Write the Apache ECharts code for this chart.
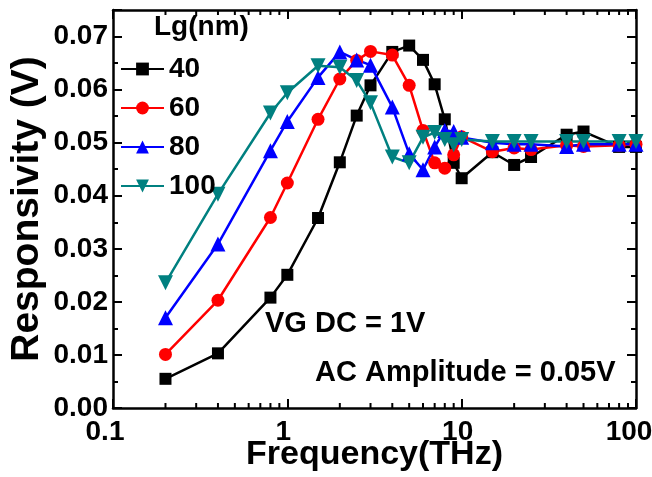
<!DOCTYPE html>
<html>
<head>
<meta charset="utf-8">
<script src="https://cdn.jsdelivr.net/npm/echarts@6/dist/echarts.min.js"></script>
<style>
html, body { margin: 0; padding: 0; background: #fff; }
#chart { width: 652px; height: 477px; }
</style>
</head>
<body>
<div id="chart"></div>
<script>
// frequency in THz, responsivity in V
var freq = [0.2, 0.4, 0.8, 1, 1.5, 2, 2.5, 3, 4, 5, 6, 7, 8, 9, 10, 15, 20, 25, 40, 50, 80, 100];
var lg40 = [0.0055, 0.0103, 0.0208, 0.0251, 0.0358, 0.0463, 0.0551, 0.0608, 0.0671, 0.0683, 0.0656, 0.0610, 0.0544, 0.0462, 0.0433, 0.0482, 0.0458, 0.0473, 0.0515, 0.0521, 0.0492, 0.0492];
var lg60 = [0.0101, 0.0203, 0.0359, 0.0424, 0.0544, 0.0620, 0.0655, 0.0672, 0.0665, 0.0608, 0.0523, 0.0462, 0.0452, 0.0477, 0.0511, 0.0483, 0.0490, 0.0487, 0.0495, 0.0493, 0.0495, 0.0497];
var lg80 = [0.0170, 0.0309, 0.0485, 0.0540, 0.0623, 0.0671, 0.0656, 0.0646, 0.0567, 0.0479, 0.0449, 0.0492, 0.0523, 0.0521, 0.0510, 0.0500, 0.0497, 0.0497, 0.0493, 0.0497, 0.0497, 0.0497];
var lg100 = [0.0236, 0.0403, 0.0556, 0.0594, 0.0645, 0.0642, 0.0617, 0.0575, 0.0473, 0.0462, 0.0510, 0.0519, 0.0506, 0.0496, 0.0506, 0.0502, 0.0502, 0.0502, 0.0502, 0.0502, 0.0502, 0.0502];
var lgNames = ['40', '60', '80', '100'];
var minorFreq = [0.2, 0.3, 0.4, 0.5, 0.6, 0.7, 0.8, 0.9, 2, 3, 4, 5, 6, 7, 8, 9, 20, 30, 40, 50, 60, 70, 80, 90];

var font = "'Liberation Sans', Arial, sans-serif";
var yMin = 0, yMax = 0.075;
var myChart = echarts.init(document.getElementById('chart'));

function pairs(ys) {
    return freq.map(function (f, i) { return [f, ys[i]]; });
}

function lineSeries(name, ys, color, symbol, size, rotate) {
    return {
        name: name,
        type: 'line',
        data: pairs(ys),
        symbol: symbol,
        symbolSize: size,
        symbolRotate: rotate || 0,
        showSymbol: true,
        itemStyle: { color: color },
        lineStyle: { color: color, width: 2.5 },
        emphasis: { disabled: true },
        animation: false
    };
}

// minor ticks for the log axis, bottom and top
function minorTicks(params, api) {
    var b = api.coord([api.value(0), yMin]);
    var t = api.coord([api.value(0), yMax]);
    return {
        type: 'group',
        children: [
            { type: 'line', shape: { x1: b[0], y1: b[1], x2: b[0], y2: b[1] - 5 }, style: { stroke: '#000', lineWidth: 2 } },
            { type: 'line', shape: { x1: t[0], y1: t[1], x2: t[0], y2: t[1] + 5 }, style: { stroke: '#000', lineWidth: 2 } }
        ]
    };
}

var axisLine = { show: true, onZero: false, lineStyle: { color: '#000', width: 2.5 } };
var labelFont = { fontFamily: font, fontWeight: 'bold', fontSize: 28, color: '#000' };

const option = {
    backgroundColor: '#fff',
    animation: false,
    grid: { left: 113, right: 16, top: 10, bottom: 69, containLabel: false, outerBoundsMode: 'none' },
    title: {
        text: 'Lg(nm)',
        left: 154,
        top: 13,
        padding: 0,
        textStyle: { fontFamily: font, fontWeight: 'bold', fontSize: 28, color: '#000' }
    },
    legend: {
        data: lgNames,
        orient: 'vertical',
        left: 120,
        top: 55,
        padding: 0,
        itemWidth: 43,
        itemHeight: 16,
        itemGap: 11,
        textStyle: { fontFamily: font, fontWeight: 'bold', fontSize: 28, color: '#000' }
    },
    xAxis: [{
        type: 'log',
        logBase: 10,
        min: 0.1,
        max: 100,
        position: 'bottom',
        name: 'Frequency(THz)',
        nameLocation: 'middle',
        nameGap: 30,
        nameMoveOverlap: false,
        nameTextStyle: { fontFamily: font, fontWeight: 'bold', fontSize: 34, color: '#000' },
        axisLine: axisLine,
        axisTick: { show: true, inside: true, length: 9, lineStyle: { color: '#000', width: 2 } },
        axisLabel: {
            margin: 10,
            fontFamily: font, fontWeight: 'bold', fontSize: 28, color: '#000',
            formatter: function (v) {
                if (v < 0.5) return '{a|' + v + '}';
                if (v > 50) return '{d|' + v + '}';
                return '{b|' + v + '}';
            },
            rich: {
                a: Object.assign({ padding: [0, 16, 0, 0] }, labelFont),
                b: Object.assign({ padding: [0, 8, 0, 0] }, labelFont),
                d: Object.assign({ padding: [0, 14, 0, 0] }, labelFont)
            }
        },
        splitLine: { show: false }
    }, {
        type: 'log',
        logBase: 10,
        min: 0.1,
        max: 100,
        position: 'top',
        axisLine: axisLine,
        axisTick: { show: true, inside: true, length: 9, lineStyle: { color: '#000', width: 2 } },
        axisLabel: { show: false },
        splitLine: { show: false }
    }],
    yAxis: [{
        type: 'value',
        min: yMin,
        max: yMax,
        interval: 0.01,
        position: 'left',
        name: 'Responsivity (V)',
        nameLocation: 'middle',
        nameGap: 66,
        nameMoveOverlap: false,
        nameTextStyle: { fontFamily: font, fontWeight: 'bold', fontSize: 39, color: '#000' },
        axisLine: axisLine,
        axisTick: { show: true, inside: true, length: 9, lineStyle: { color: '#000', width: 2 } },
        minorTick: { show: true, splitNumber: 2, length: 5, lineStyle: { color: '#000', width: 2 } },
        axisLabel: {
            margin: 5,
            showMaxLabel: false,
            fontFamily: font, fontWeight: 'bold', fontSize: 28, color: '#000',
            formatter: function (v) { return v.toFixed(2); }
        },
        splitLine: { show: false }
    }, {
        type: 'value',
        min: yMin,
        max: yMax,
        interval: 0.01,
        position: 'right',
        axisLine: axisLine,
        axisTick: { show: true, inside: true, length: 9, lineStyle: { color: '#000', width: 2 } },
        minorTick: { show: true, splitNumber: 2, length: 5, lineStyle: { color: '#000', width: 2 } },
        axisLabel: { show: false },
        splitLine: { show: false }
    }],
    graphic: [{
        type: 'text',
        left: 265,
        top: 309,
        style: { text: 'VG DC = 1V', fill: '#000', font: 'bold 29px ' + font }
    }, {
        type: 'text',
        left: 315,
        top: 358,
        style: { text: 'AC Amplitude = 0.05V', fill: '#000', font: 'bold 29px ' + font }
    }],
    series: [
        {
            type: 'custom',
            data: minorFreq.map(function (f) { return [f, 0]; }),
            renderItem: minorTicks,
            silent: true,
            clip: false,
            z: 1
        },
        lineSeries('40', lg40, '#000000', 'rect', 12),
        lineSeries('60', lg60, '#ff0000', 'circle', 13),
        lineSeries('80', lg80, '#0000ff', 'triangle', 15),
        lineSeries('100', lg100, '#008080', 'triangle', 15, 180)
    ]
};

myChart.setOption(option);
</script>
</body>
</html>
